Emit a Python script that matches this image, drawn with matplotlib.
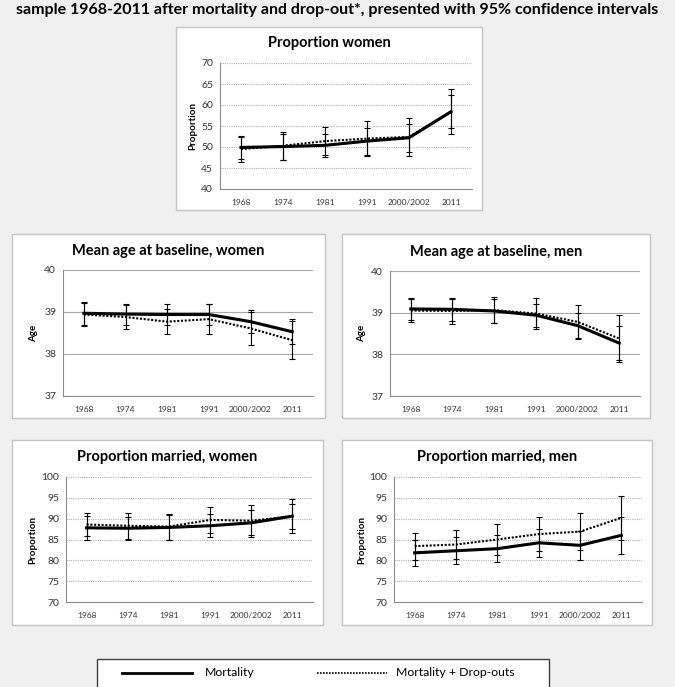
import numpy as np
import matplotlib.pyplot as plt
from matplotlib.patches import Rectangle
from matplotlib.lines import Line2D

plt.rcParams['font.family'] = ['Lato', 'DejaVu Sans']

W, H = 675, 687

waves = ["1968", "1974", "1981", "1991", "2000/2002", "2011"]

# Proportion women
women_mort = [49.9, 50.1, 50.4, 51.4, 52.2, 58.4]
women_mort_ci = [2.8, 3.1, 2.8, 3.2, 3.3, 3.9]
women_drop = [49.5, 50.3, 51.4, 52.0, 52.4, 58.4]
women_drop_ci = [3.0, 3.3, 3.4, 4.1, 4.5, 5.4]

# Mean age at baseline, women
age_w_mort = [38.97, 38.95, 38.94, 38.94, 38.77, 38.53]
age_w_mort_ci = [0.27, 0.25, 0.25, 0.26, 0.28, 0.30]
age_w_drop = [38.94, 38.88, 38.77, 38.83, 38.61, 38.33]
age_w_drop_ci = [0.27, 0.29, 0.30, 0.35, 0.40, 0.45]

# Mean age at baseline, men
age_m_mort = [39.09, 39.08, 39.04, 38.94, 38.69, 38.27]
age_m_mort_ci = [0.27, 0.28, 0.28, 0.28, 0.30, 0.40]
age_m_drop = [39.05, 39.04, 39.06, 38.98, 38.78, 38.38]
age_m_drop_ci = [0.27, 0.30, 0.31, 0.38, 0.41, 0.56]

# Proportion married, women
mar_w_mort = [87.8, 87.7, 87.9, 88.3, 89.0, 90.6]
mar_w_mort_ci = [2.8, 2.8, 2.9, 2.8, 3.0, 3.0]
mar_w_drop = [88.6, 88.3, 88.1, 89.7, 89.5, 90.6]
mar_w_drop_ci = [2.8, 3.1, 3.1, 3.2, 3.9, 4.1]

# Proportion married, men
mar_m_mort = [81.8, 82.3, 82.8, 84.2, 83.6, 86.0]
mar_m_mort_ci = [3.1, 3.2, 3.3, 3.4, 3.5, 4.4]
mar_m_drop = [83.4, 83.8, 85.0, 86.3, 86.9, 90.2]
mar_m_drop_ci = [3.2, 3.5, 3.8, 4.0, 4.4, 5.2]

panels = [
    # title, ylabel, mort, mort_ci, drop, drop_ci, ylim, step, grid style, box px, axes px, title y, ylabel x
    ("Proportion women", "Proportion", women_mort, women_mort_ci, women_drop, women_drop_ci,
     (40, 70), 5, ':', (176, 27, 482, 210), (220, 63, 472, 189), 43, 193),
    ("Mean age at baseline, women", "Age", age_w_mort, age_w_mort_ci, age_w_drop, age_w_drop_ci,
     (37, 40), 1, '-', (12, 234, 325, 418), (63, 270, 313, 396), 251, 34),
    ("Mean age at baseline, men", "Age", age_m_mort, age_m_mort_ci, age_m_drop, age_m_drop_ci,
     (37, 40), 1, '-', (342, 234, 650, 418), (390, 271, 640, 396), 252, 362),
    ("Proportion married, women", "Proportion", mar_w_mort, mar_w_mort_ci, mar_w_drop, mar_w_drop_ci,
     (70, 100), 5, ':', (12, 440, 323, 625), (66, 477, 313, 602), 457, 33),
    ("Proportion married, men", "Proportion", mar_m_mort, mar_m_mort_ci, mar_m_drop, mar_m_drop_ci,
     (70, 100), 5, ':', (342, 440, 652, 625), (394, 477, 642, 602), 457, 362),
]


def fig_rect(x0, y0, x1, y1):
    return [x0 / W, 1 - y1 / H, (x1 - x0) / W, (y1 - y0) / H]


fig = plt.figure(figsize=(W / 100, H / 100), dpi=100, facecolor='#f0f0f0')

fig.text(0.5, 1 - 10 / H, "sample 1968-2011 after mortality and drop-out*, presented with 95% confidence intervals",
         ha='center', va='center', fontsize=11.5, fontweight='bold')

x = np.arange(len(waves))
for (title, ylab, mort, mort_ci, drop, drop_ci, ylim, step, gls, box, axr, ty, yx) in panels:
    r = fig_rect(*box)
    fig.add_artist(Rectangle((r[0], r[1]), r[2], r[3], transform=fig.transFigure,
                             facecolor='white', edgecolor='#c4c4c4', lw=1, zorder=-1))
    ax = fig.add_axes(fig_rect(*axr))
    ax.set_facecolor('white')
    ax.errorbar(x, drop, yerr=drop_ci, color='black', lw=1.5, ls=(0, (1, 0.8)),
                elinewidth=0.8, capsize=2, capthick=0.8, zorder=3)
    ax.errorbar(x, mort, yerr=mort_ci, color='black', lw=2.2, ls='-',
                elinewidth=0.8, capsize=2, capthick=0.8, zorder=4)
    ax.set_xlim(-0.5, len(waves) - 0.5)
    ax.set_ylim(*ylim)
    ax.set_yticks(np.arange(ylim[0], ylim[1] + 0.1, step))
    ax.set_xticks(x)
    ax.set_xticklabels(waves)
    if gls == ':':
        ax.grid(axis='y', color='#b0b0b0', ls=(0, (1, 1)), lw=0.8)
    else:
        ax.grid(axis='y', color='#a8a8a8', ls='-', lw=0.8)
    ax.set_axisbelow(True)
    for s in ['top', 'right']:
        ax.spines[s].set_visible(False)
    for s in ['left', 'bottom']:
        ax.spines[s].set_color('#8c8c8c')
        ax.spines[s].set_linewidth(0.8)
    ax.tick_params(axis='x', length=0, pad=7, labelsize=6, colors='#333333')
    ax.tick_params(axis='y', length=0, pad=5, labelsize=7.5, colors='#333333')
    fig.text((box[0] + box[2]) / 2 / W, 1 - ty / H, title, ha='center', va='center',
             fontsize=10.5, fontweight='bold')
    fig.text(yx / W, 1 - (axr[1] + axr[3]) / 2 / H, ylab, ha='center', va='center',
             rotation=90, fontsize=7, fontweight='bold')

# legend box
r = fig_rect(97, 659, 549, 695)
fig.add_artist(Rectangle((r[0], r[1]), r[2], r[3], transform=fig.transFigure,
                         facecolor='white', edgecolor='#404040', lw=1, zorder=-1))
ly = 1 - 673 / H
fig.add_artist(Line2D([122 / W, 192 / W], [ly, ly], transform=fig.transFigure, color='black', lw=2))
fig.text(205 / W, ly, "Mortality", ha='left', va='center', fontsize=8.8)
fig.add_artist(Line2D([317 / W, 387 / W], [ly, ly], transform=fig.transFigure, color='black',
                      lw=1.2, ls=(0, (1, 0.8))))
fig.text(396 / W, ly, "Mortality + Drop-outs", ha='left', va='center', fontsize=8.8)

fig.savefig("out.png", dpi=100, facecolor=fig.get_facecolor())
